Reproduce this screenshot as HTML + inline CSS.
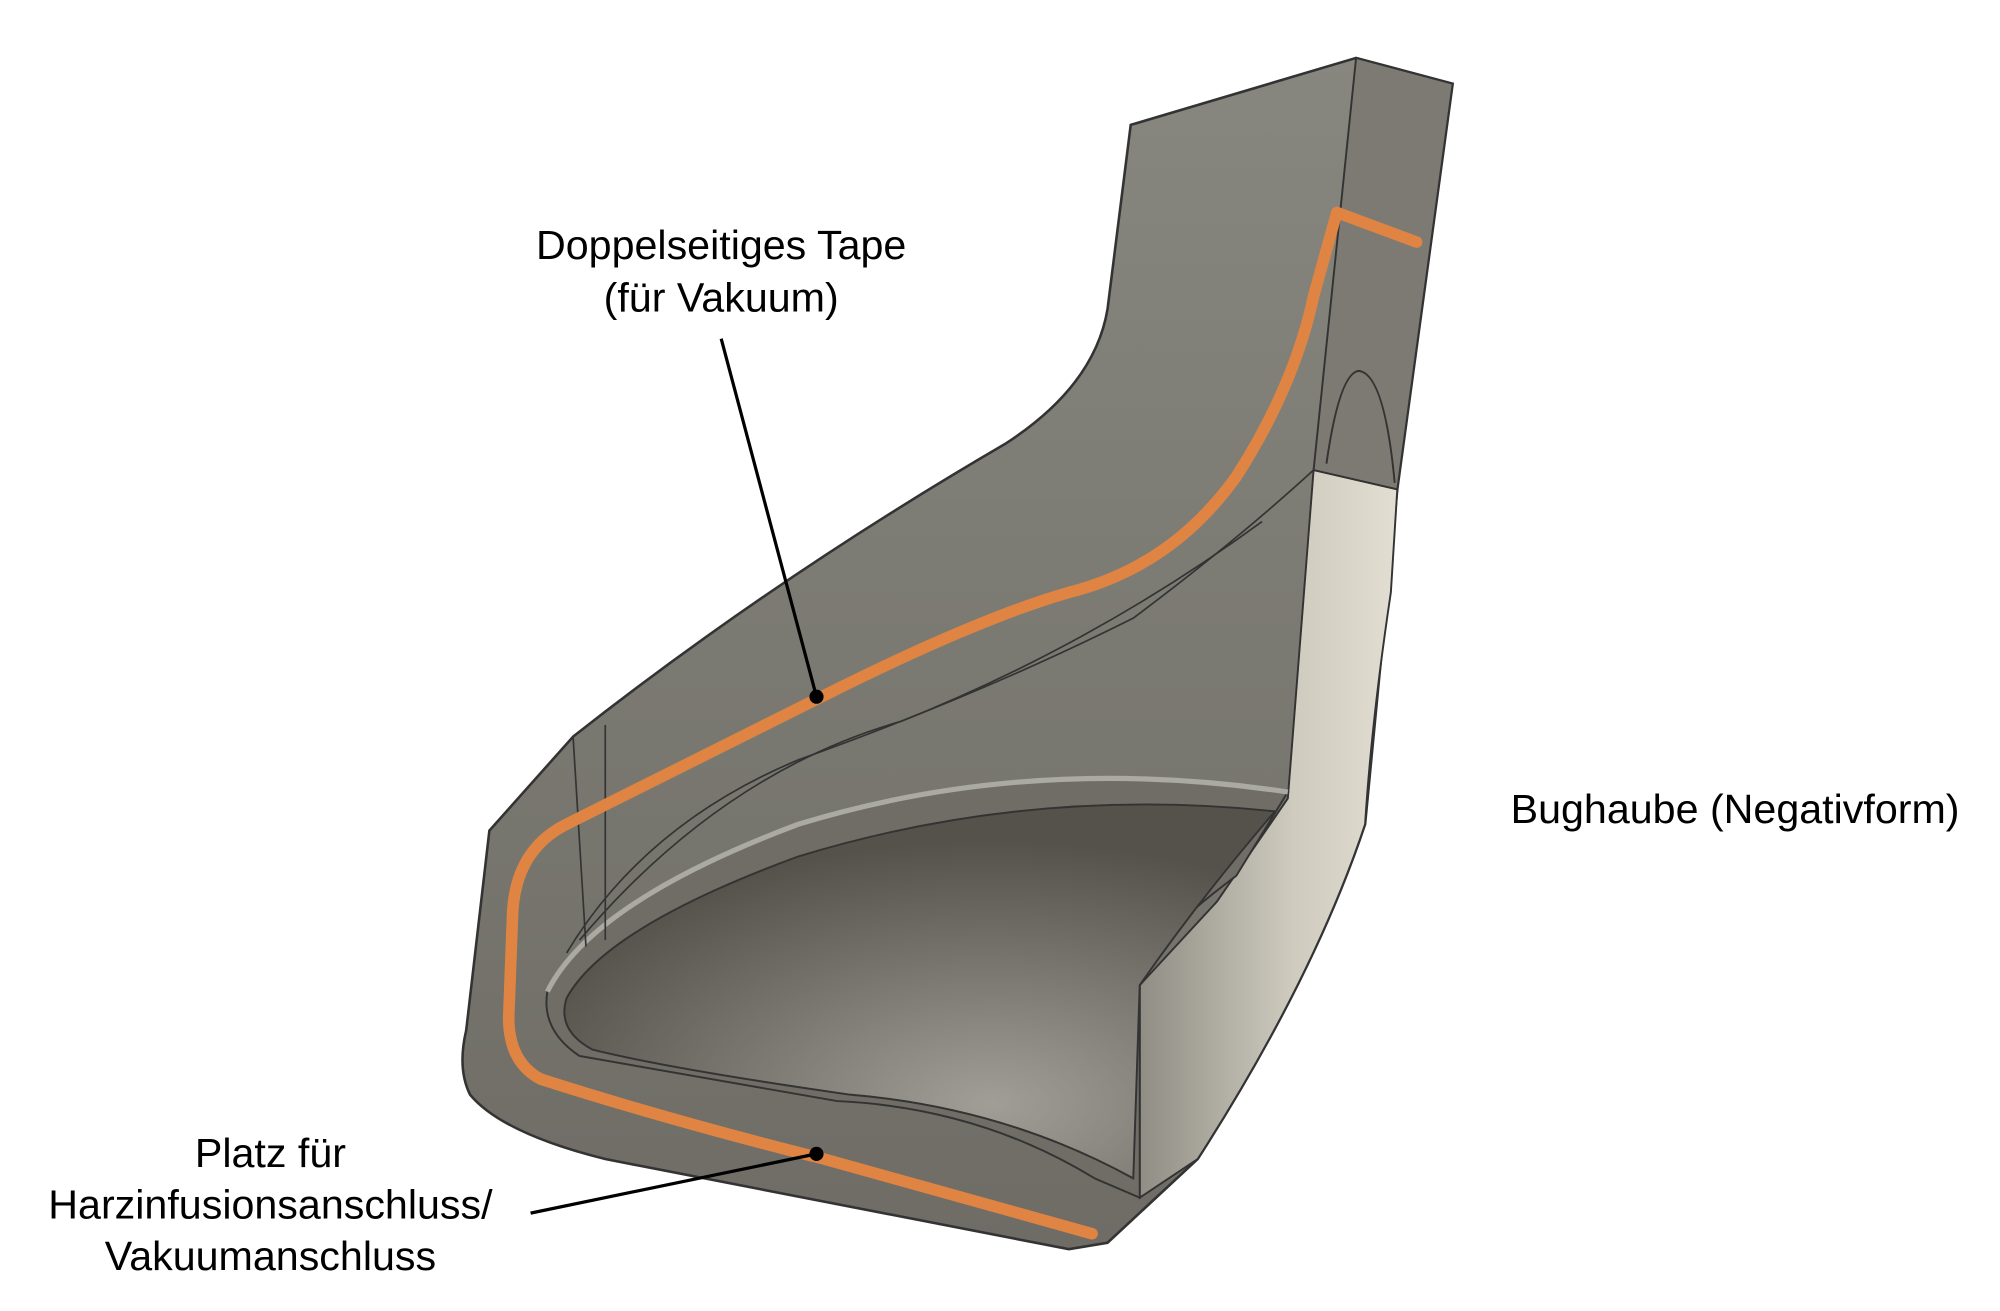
<!DOCTYPE html>
<html><head><meta charset="utf-8"><style>
html,body{margin:0;padding:0;background:#fff;width:2000px;height:1311px;overflow:hidden}
svg{display:block}
text{font-family:"Liberation Sans",Arial,sans-serif;font-size:32px;fill:#000}
</style></head><body>
<svg width="2000" height="1311" viewBox="0 0 1553 1018" xmlns="http://www.w3.org/2000/svg">
<defs>
<linearGradient id="rs" x1="0" y1="0" x2="1" y2="0">
<stop offset="0" stop-color="#8f8d84"/><stop offset="0.6" stop-color="#cfcbbf"/><stop offset="1" stop-color="#e2ded2"/>
</linearGradient>
<linearGradient id="main" x1="0" y1="0" x2="0" y2="1">
<stop offset="0" stop-color="#87877f"/><stop offset="1" stop-color="#6e6c65"/>
</linearGradient>
<radialGradient id="cav" cx="0.6" cy="0.8" r="0.7">
<stop offset="0" stop-color="#a09e96"/><stop offset="1" stop-color="#55524c"/>
</radialGradient>
</defs>
<path d="M380,645 L445,572 Q600,450 780,345 Q850,300 860,240 L878,97 L1053,45 L1128,65 L1085,380 L1060,640 Q1020,760 930,900 L860,965 L830,970 L470,900 Q390,880 365,850 Q355,830 362,800 Z" fill="url(#main)" stroke="#333" stroke-width="2"/>
<path d="M1085,380 L1080,460 Q1065,560 1060,640 Q1020,760 930,900 L885,930 L885,765 L945,700 L1000,620 L1020,365 Z" fill="url(#rs)" stroke="#333" stroke-width="1.5"/>
<path d="M1020,365 L1053,45 L1128,65 L1085,380 Z" fill="#7c7a72" stroke="#333" stroke-width="1.5"/>
<path d="M1030,360 Q1040,290 1055,288 Q1075,290 1083,375" fill="none" stroke="#333" stroke-width="1.5"/>
<path d="M425,770 Q460,700 620,640 Q800,585 1000,615 L960,680 Q880,740 885,765 L885,930 L850,915 Q760,860 650,855 L450,820 Q420,800 425,770 Z" fill="#6f6d66" stroke="#333" stroke-width="1.5"/>
<path d="M440,775 Q470,720 620,665 Q800,610 990,630 Q930,700 885,765 L880,915 Q780,860 660,850 Q520,830 460,815 Q432,800 440,775 Z" fill="url(#cav)" stroke="#333" stroke-width="1.5"/>
<path d="M425,770 Q460,700 620,640 Q800,585 1000,615" fill="none" stroke="#aaa9a2" stroke-width="4"/>
<path d="M445,572 L455,735 M470,563 L470,730 M980,405 Q850,500 700,560 Q560,600 450,730" fill="none" stroke="#333" stroke-width="1.3"/>
<path d="M1020,365 Q960,420 880,480 Q760,540 620,590 Q500,640 440,740" fill="none" stroke="#333" stroke-width="1.3"/>
<path d="M848,958 L640,900 Q520,870 420,838 Q395,825 395,790 L398,710 Q400,660 440,640 Q540,590 640,540 Q760,480 830,460 Q910,440 960,370 Q1005,300 1020,230 L1038,165 L1100,188" fill="none" stroke="#e08443" stroke-width="9" stroke-linejoin="round" stroke-linecap="round"/>
<line x1="560" y1="263" x2="634" y2="541" stroke="#000" stroke-width="2.5"/>
<circle cx="634" cy="541" r="5.5" fill="#000"/>
<line x1="412" y1="942" x2="634" y2="896" stroke="#000" stroke-width="2.5"/>
<circle cx="634" cy="896" r="5.5" fill="#000"/>
<text x="560" y="201" text-anchor="middle">Doppelseitiges Tape</text>
<text x="560" y="242" text-anchor="middle">(für Vakuum)</text>
<text x="1173" y="639">Bughaube (Negativform)</text>
<text x="210" y="906" text-anchor="middle">Platz für</text>
<text x="210" y="946" text-anchor="middle">Harzinfusionsanschluss/</text>
<text x="210" y="986" text-anchor="middle">Vakuumanschluss</text>
</svg>
</body></html>
